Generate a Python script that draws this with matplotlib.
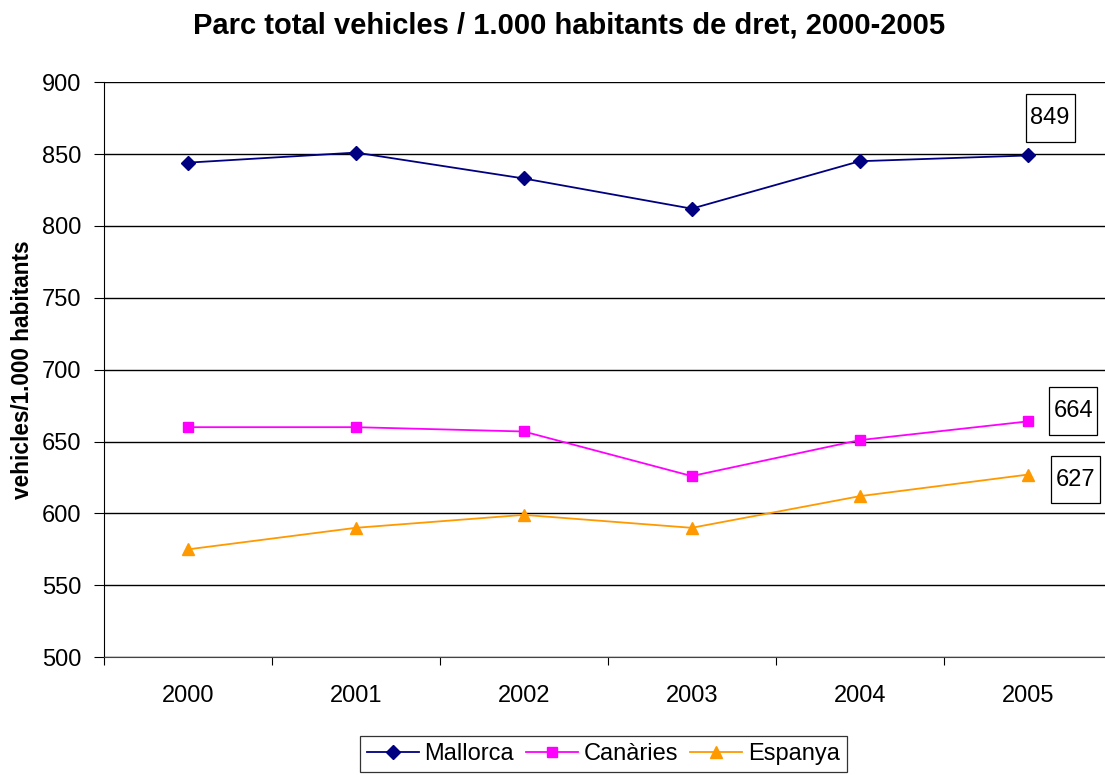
import numpy as np
import matplotlib.pyplot as plt
from matplotlib.patches import Rectangle
from matplotlib.transforms import ScaledTranslation

plt.rcParams['font.family'] = ['Liberation Sans', 'DejaVu Sans']

years = ["2000", "2001", "2002", "2003", "2004", "2005"]
mallorca = [844, 851, 833, 812, 845, 849]
canaries = [660, 660, 657, 626, 651, 664]
espanya = [575, 590, 599, 590, 612, 627]

x = np.arange(len(years))

fig = plt.figure(figsize=(11.05, 7.75), dpi=100)
ax = fig.add_axes([0.094, 0.152, 0.912, 0.742])

ax.plot(x, mallorca, color="#000080", marker="D", markersize=7, lw=1.3, label="Mallorca")
ax.plot(x, canaries, color="#FF00FF", marker="s", markersize=7, lw=1.3, label="Canàries")
ax.plot(x, espanya, color="#FF9900", marker="^", markersize=9, lw=1.3, label="Espanya")

ax.set_xlim(-0.5, 5.5)
ax.set_ylim(500, 900)
ax.set_yticks(np.arange(500, 901, 50))
ax.yaxis.grid(True, color="black", lw=1)
ax.set_axisbelow(True)

# ticks between categories, labels at category centres
ax.set_xticks(np.arange(-0.5, 6, 1))
ax.set_xticklabels([])
ax.set_xticks(x, minor=True)
ax.set_xticklabels(years, minor=True)
ax.tick_params(axis="x", which="minor", length=0, pad=20, labelsize=17)
ax.tick_params(axis="x", which="major", length=6, color="black")
ax.tick_params(axis="y", length=7, labelsize=17, pad=9)

for s in ["top", "right"]:
    ax.spines[s].set_visible(False)
ax.spines["left"].set_color("black")
ax.spines["bottom"].set_color("#444444")

ax.set_ylabel("vehicles/1.000 habitants", fontsize=16.3, fontweight="bold", labelpad=6)
fig.suptitle("Parc total vehicles / 1.000 habitants de dret, 2000-2005",
             fontsize=21, fontweight="bold", x=0.515, y=0.985)

# boxed labels for the 2005 values (offsets and sizes in inches)
labels = [(mallorca[-1], 0.225, 0.377, 0.49), (canaries[-1], 0.455, 0.105, 0.48),
          (espanya[-1], 0.48, -0.05, 0.49)]
for val, dx, dy, w in labels:
    trans = fig.dpi_scale_trans + ScaledTranslation(x[-1], val, ax.transData)
    h = 0.475
    ax.add_patch(Rectangle((dx - w / 2, dy - h / 2), w, h, transform=trans,
                           fc="white", ec="black", lw=0.9, clip_on=False, zorder=5))
    ax.text(dx, dy, f"{val}", transform=trans, ha="center", va="center",
            fontsize=17, zorder=6)

leg = fig.legend(loc="upper center", bbox_to_anchor=(0.546, 0.05), ncol=3, fontsize=17,
                 frameon=True, fancybox=False, edgecolor="black", handlelength=2.2,
                 handletextpad=0.25, columnspacing=0.5, borderpad=0.3, borderaxespad=0)
leg.get_frame().set_linewidth(0.9)

fig.savefig("out.png", dpi=100)
